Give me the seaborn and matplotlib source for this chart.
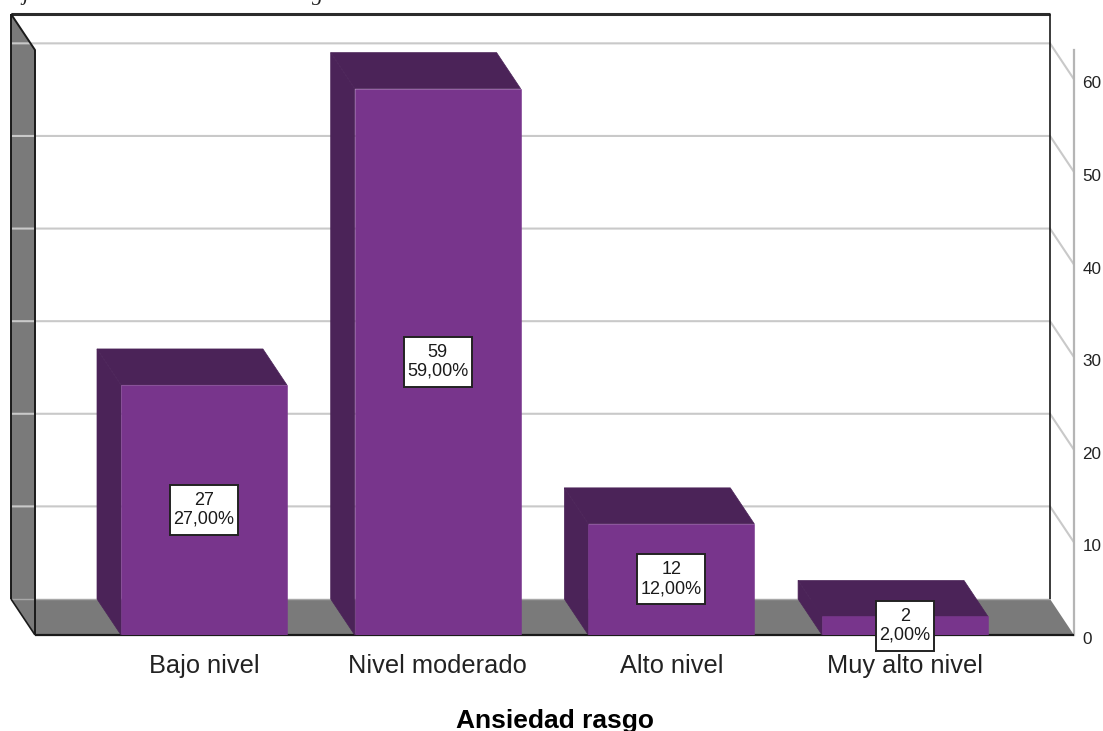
import matplotlib
matplotlib.use("Agg")
import matplotlib.pyplot as plt
from matplotlib.patches import Polygon, Rectangle
from matplotlib.transforms import ScaledTranslation, IdentityTransform
import pandas as pd
import seaborn as sns

categories = ["Bajo nivel", "Nivel moderado", "Alto nivel", "Muy alto nivel"]
counts = [27, 59, 12, 2]
percent_labels = ["27,00%", "59,00%", "12,00%", "2,00%"]
y_ticks = [0, 10, 20, 30, 40, 50, 60]
axis_title = "Ansiedad rasgo"

W, H = 1103, 731
FRONT = "#78358C"
DARK = "#4B2358"
GREY = "#7A7A7A"
GRID = "#C9C9C9"

sns.set_theme(style="white")
plt.rcParams["font.family"] = ["Liberation Sans", "DejaVu Sans"]

fig = plt.figure(figsize=(W / 100, H / 100), dpi=100, facecolor="white")
ax = fig.add_axes([35 / W, 1 - 635 / H, (1074 - 35) / W, (635 - 50) / H])
ax.patch.set_alpha(0)

df = pd.DataFrame({"cat": categories, "n": counts})
sns.barplot(data=df, x="cat", y="n", color=FRONT, saturation=1, width=0.71, ax=ax, zorder=5)

x0, x1 = -0.723, 3.723
y0, y1 = 0, 63.17
ax.set_xlim(x0, x1)
ax.set_ylim(y0, y1)
DX, DY = -0.1027, 3.888   # depth of the pseudo-3D box, in data units

def poly(pts, fc, z, ec="none"):
    ax.add_patch(Polygon(pts, closed=True, facecolor=fc, edgecolor=ec, lw=0.5, clip_on=False, zorder=z))

def line(xs, ys, color, lw, z):
    ax.plot(xs, ys, color=color, lw=lw, clip_on=False, zorder=z, solid_capstyle="butt")

# floor and left wall
poly([(x0, 0), (x1, 0), (x1 + DX, DY), (x0 + DX, DY)], GREY, 1)
poly([(x0 + DX, DY), (x0, 0), (x0, y1), (x0 + DX, y1 + DY)], GREY, 1)

# gridlines on the back wall, running out to the axis
for t in y_ticks[1:]:
    line([x0 + DX, x1 + DX, x1], [t + DY, t + DY, t], GRID, 1.5, 2)
line([x0 + DX, x1 + DX], [DY, DY], "#A8A8A8", 1.0, 2)

# box edges
line([x0 + DX, x1 + DX], [y1 + DY, y1 + DY], "#2B2B2B", 2.2, 3)
line([x0 + DX, x0 + DX], [DY, y1 + DY], "#1A1A1A", 1.4, 3)
line([x1 + DX, x1 + DX], [DY, y1 + DY], "#1A1A1A", 1.2, 3)
line([x0 + DX, x0, x0], [y1 + DY, y1, 0], "#1A1A1A", 1.4, 3)
line([x0 + DX, x0], [DY, 0], "#1A1A1A", 1.2, 3)
line([x0, x1], [0, 0], "#1A1A1A", 1.6, 3)

# bars: sides and tops from the patches seaborn drew
for bar in [p for p in ax.patches if p.get_zorder() == 5]:
    l, r, h = bar.get_x(), bar.get_x() + bar.get_width(), bar.get_height()
    bar.set_edgecolor(FRONT)
    bar.set_linewidth(0.4)
    poly([(l, 0), (l, h), (l + DX, h + DY), (l + DX, DY)], DARK, 4, DARK)
    poly([(l, h), (r, h), (r + DX, h + DY), (l + DX, h + DY)], DARK, 4, DARK)

# value boxes, sized from the text they hold
fig.canvas.draw()
renderer = fig.canvas.get_renderer()
for i, (n, p) in enumerate(zip(counts, percent_labels)):
    t = ax.text(i, n / 2, f"{n}\n{p}", ha="center", va="center", fontsize=13, color="#1A1A1A",
                linespacing=1.15, zorder=8, clip_on=False)
    bb = t.get_window_extent(renderer)
    w, h = bb.width + 7, 50
    cx, cy = (bb.x0 + bb.x1) / 2, (bb.y0 + bb.y1) / 2
    ax.add_patch(Rectangle((cx - w / 2, cy - h / 2), w, h, transform=IdentityTransform(),
                           fc="white", ec="#222222", lw=1.4, clip_on=False, zorder=7))

# axes furniture
for s in ["top", "left", "bottom"]:
    ax.spines[s].set_visible(False)
ax.spines["right"].set_visible(True)
ax.spines["right"].set_color("#B5B5B5")
ax.spines["right"].set_linewidth(1.6)
ax.spines["right"].set_zorder(2)

ax.yaxis.tick_right()
ax.set_yticks(y_ticks)
ax.tick_params(axis="y", length=0, pad=6, labelsize=12.3, labelcolor="#222222", labelright=True, labelleft=False)
down = ScaledTranslation(0, -3 / 100, fig.dpi_scale_trans)
for lab in ax.get_yticklabels():
    lab.set_transform(lab.get_transform() + down)
ax.set_ylabel("")

ax.tick_params(axis="x", length=0, pad=14, labelsize=18.3, labelcolor="#222222")
ax.set_xlabel(axis_title, fontsize=19, fontweight="bold", color="black", labelpad=22)

# caption above the chart, cropped by the image edge
fig.text(25 / W, 1.0, "j", family="Liberation Serif", style="italic", fontsize=16, ha="center", va="baseline", color="#222222")
fig.text(318 / W, 1.0, "g", family="Liberation Serif", style="italic", fontsize=16, ha="center", va="baseline", color="#222222")

fig.savefig("out.png", dpi=100)
